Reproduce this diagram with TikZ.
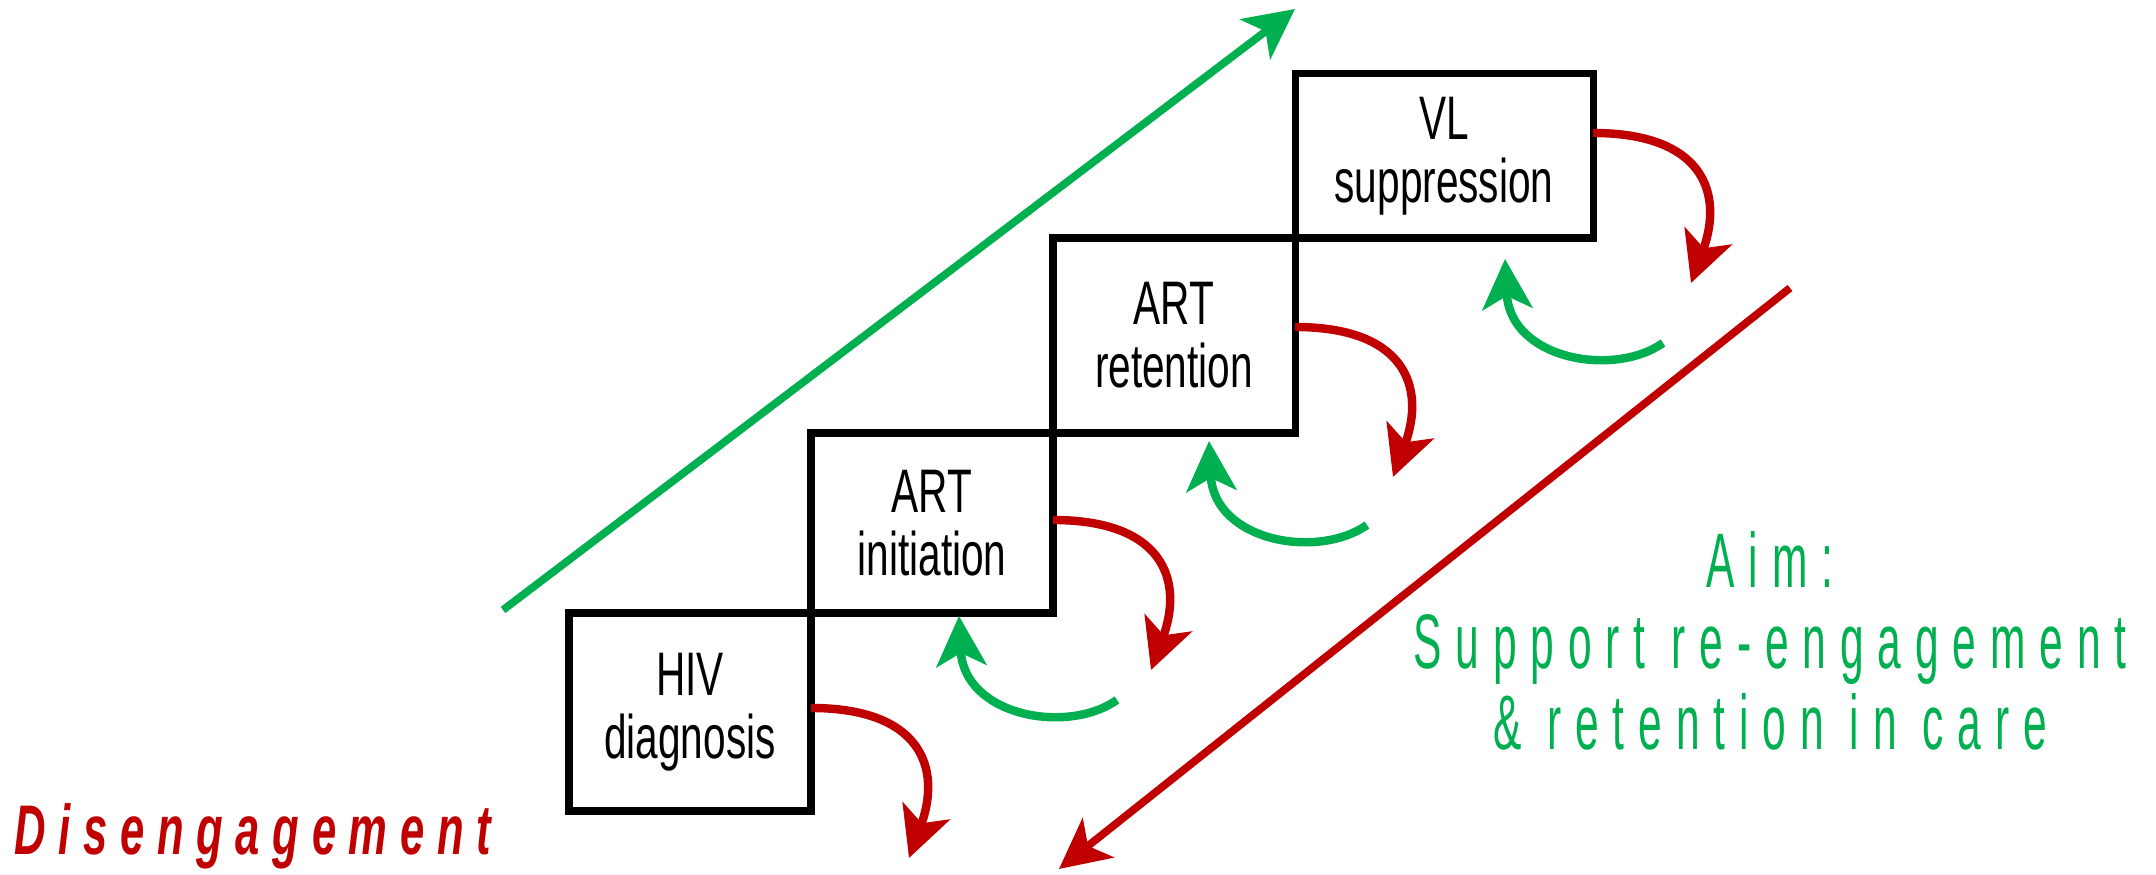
\documentclass[tikz,border=0pt]{standalone}
\usepackage{fontspec}
\setmainfont{Liberation Sans}[FakeStretch=0.66]
\newfontfamily\aimfont{Liberation Sans}[FakeStretch=0.55,LetterSpace=18]
\newfontfamily\dropfont{Liberation Sans}[FakeStretch=0.62,LetterSpace=18]
\usetikzlibrary{arrows.meta,positioning,calc}
\definecolor{carered}{HTML}{C00000}
\definecolor{caregreen}{HTML}{00B050}
\tikzset{
  stepbox/.style={draw,line width=2pt,minimum width=2.42cm,outer sep=0pt,inner sep=0pt,
    align=center,font=\fontsize{17.5}{18}\selectfont},
  dropout/.style={-{Stealth[length=5mm,width=5mm,inset=1.3mm]},line width=2.4pt,draw=carered,fill=none},
  comeback/.style={-{Stealth[length=5mm,width=5mm,inset=1.3mm]},line width=2.4pt,draw=caregreen,fill=none},
  trend/.style={-{Stealth[length=5mm,width=5mm,inset=1.3mm]},line width=2.2pt},
  aimtext/.style={anchor=north,inner sep=0pt,align=center,text=caregreen,
    font=\aimfont\fontsize{22}{23}\selectfont},
  droptext/.style={anchor=base west,inner sep=0pt,text=carered,
    font=\dropfont\bfseries\itshape\fontsize{20}{23}\selectfont}
}

\begin{document}
\begin{tikzpicture}
    \useasboundingbox (0,0) rectangle (21.56,8.75);
    % the steps of the cascade
    \node[stepbox,minimum height=1.98cm,anchor=south west] (hiv) at (5.69,0.64) {HIV\\diagnosis};
    \node[stepbox,minimum height=1.80cm,above right=0cm of hiv] (ini) {ART\\initiation};
    \node[stepbox,minimum height=1.95cm,above right=0cm of ini] (ret) {ART\\retention};
    \node[stepbox,minimum width=2.98cm,minimum height=1.64cm,above right=0cm of ret] (vl) {VL\\suppression};
    % long arrows
    \coordinate (riseA) at (5.03,2.65); \coordinate (riseB) at (12.95,8.66);
    \coordinate (fallA) at (17.90,5.87); \coordinate (fallB) at (10.59,0.06);
    \draw[trend,draw=caregreen] (riseA)--(riseB);
    \draw[trend,draw=carered] (fallA)--(fallB);
    % dropping out of each step
    \coordinate (hivout) at ($(hiv.north east)+(0,-0.95)$);
    \coordinate (hivdrop) at ($(hivout)+(0.98,-1.50)$);
    \draw[dropout] (hivout) .. controls +(1.1,0) and +(0.33,0.9) .. (hivdrop);
    \coordinate (iniout) at ($(ini.north east)+(0,-0.87)$);
    \coordinate (inidrop) at ($(iniout)+(0.98,-1.50)$);
    \draw[dropout] (iniout) .. controls +(1.1,0) and +(0.33,0.9) .. (inidrop);
    \coordinate (retout) at ($(ret.north east)+(0,-0.89)$);
    \coordinate (retdrop) at ($(retout)+(0.98,-1.50)$);
    \draw[dropout] (retout) .. controls +(1.1,0) and +(0.33,0.9) .. (retdrop);
    \coordinate (vlout) at ($(vl.north east)+(0,-0.59)$);
    \coordinate (vldrop) at ($(vlout)+(0.98,-1.50)$);
    \draw[dropout] (vlout) .. controls +(1.1,0) and +(0.33,0.9) .. (vldrop);
    % coming back
    \coordinate (initail) at ($(ini.south east)+(0.64,-0.87)$);
    \coordinate (iniback) at ($(initail)+(-1.58,0.84)$);
    \draw[comeback] (initail) .. controls +(-0.5,-0.35) and +(0.05,-1.0) .. (iniback);
    \coordinate (rettail) at ($(ret.south east)+(0.72,-0.92)$);
    \coordinate (retback) at ($(rettail)+(-1.58,0.84)$);
    \draw[comeback] (rettail) .. controls +(-0.5,-0.35) and +(0.05,-1.0) .. (retback);
    \coordinate (vltail) at ($(vl.south east)+(0.70,-1.05)$);
    \coordinate (vlback) at ($(vltail)+(-1.58,0.84)$);
    \draw[comeback] (vltail) .. controls +(-0.5,-0.35) and +(0.05,-1.0) .. (vlback);
    % labels
    \node[aimtext] (aim) at (17.70,3.44) {Aim:\\Support re-engagement\\\& retention in care};
    \node[droptext] (drop) at (0.14,0.20) {Disengagement};
\end{tikzpicture}
\end{document}
